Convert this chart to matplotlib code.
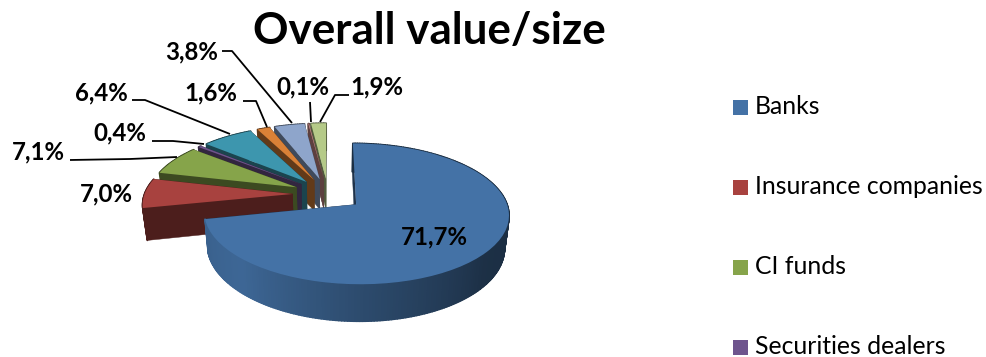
import numpy as np
import matplotlib
matplotlib.use("Agg")
import matplotlib.pyplot as plt
from matplotlib.transforms import Transform
from matplotlib.patches import Rectangle

plt.rcParams['font.family'] = ['Lato', 'DejaVu Sans']

title = "Overall value/size"
values = [71.7, 7.0, 7.1, 0.4, 6.4, 1.6, 3.8, 0.1, 1.9]
colors = ['#4472A6', '#A8423F', '#86A44A', '#6E548D', '#3D96AE',
          '#DA8137', '#8EA5CB', '#CE8E8D', '#B5CA88']
legend_names = ["Banks", "Insurance companies", "CI funds", "Securities dealers"]

# projection of the tilted pie into pixel-like axes coordinates
X0, Y0, SX, SY, PERSP, DEPTH, EXPLODE = 328.0, 194.2, 148.0, 66.5, 0.13, 31.5, 0.24


def project(wx, wy, bottom=False):
    w = 1 + PERSP * np.asarray(wy)
    shrink = 0.975 if bottom else 1.0
    return (X0 + SX * np.asarray(wx) / w * shrink,
            Y0 - SY * np.asarray(wy) / w + (DEPTH / w if bottom else 0.0))


class Perspective(Transform):
    input_dims = 2
    output_dims = 2
    is_affine = False
    has_inverse = False

    def transform_non_affine(self, values):
        v = np.asarray(values, dtype=float)
        x, y = project(v[:, 0], v[:, 1])
        return np.column_stack([x, y])


fig = plt.figure(figsize=(9.86, 3.57), dpi=100, facecolor='white')
ax = fig.add_axes([0, 0, 1, 1])

wedges, _ = ax.pie(values, colors=colors, explode=[EXPLODE] * len(values),
                   startangle=90, counterclock=False, radius=1,
                   wedgeprops={'linewidth': 0})
ax.set_aspect('auto')
ax.set_xlim(0, 986)
ax.set_ylim(357, 0)
ax.axis('off')

persp = Perspective() + ax.transData
fracs = np.array(values) / sum(values)
edges = np.concatenate([[0], np.cumsum(fracs)]) * 2 * np.pi


def blue_shade(t):
    deg = np.degrees(t)
    return np.interp(deg, [90, 130, 180, 225, 258], [0.40, 0.42, 0.66, 0.90, 0.85])


for i in range(len(values) - 1, -1, -1):
    z = 10 + (len(values) - i) * 2
    t0, t1 = edges[i], edges[i + 1]
    tm = (t0 + t1) / 2
    cx, cy = EXPLODE * np.sin(tm), EXPLODE * np.cos(tm)
    base = np.array(matplotlib.colors.to_rgb(colors[i]))
    dark = base * 0.45

    # straight cut faces
    for t in (t1, t0):
        xs = [cx, cx + np.sin(t)]
        ys = [cy, cy + np.cos(t)]
        tx, ty = project(xs, ys)
        bx, by = project(xs, ys, bottom=True)
        ax.fill(np.r_[tx, bx[::-1]], np.r_[ty, by[::-1]], color=dark, lw=0.3, zorder=z)

    # outer rim, one continuous strip per shade step
    n = max(2, int((t1 - t0) / np.radians(1)))
    ts = np.linspace(t0, t1, n + 1)
    for a, b in zip(ts[:-1], ts[1:]):
        xs = cx + np.sin([a, b])
        ys = cy + np.cos([a, b])
        tx, ty = project(xs, ys)
        bx, by = project(xs, ys, bottom=True)
        shade = blue_shade((a + b) / 2) if i == 0 else 0.45
        ax.fill(np.r_[tx, bx[::-1]], np.r_[ty, by[::-1]], color=base * shade, lw=1.2,
                joinstyle='round', zorder=z)

    wedges[i].set_transform(persp)
    wedges[i].set_clip_on(False)
    wedges[i].set_zorder(z + 1)

ax.set_xlim(0, 986)
ax.set_ylim(357, 0)

ax.text(429, 31, title, fontsize=31.7, fontweight='bold', ha='center', va='center', color='black', zorder=50)

label_xy = [(434, 237), (106, 194), (38, 152), (120, 133), (101, 93),
            (211, 93), (192, 52), (303, 87), (377, 87)]
for v, (x, y) in zip(values, label_xy):
    ax.text(x, y, f"{v:.1f}%".replace('.', ','), fontsize=17.3, fontweight='bold',
            ha='center', va='center', color='black', zorder=50)

leaders = [
    [(70, 160), (130, 159), (177, 157)],
    [(152, 141), (173, 141), (204, 144)],
    [(132, 100), (145, 100), (230, 134)],
    [(243, 101), (256, 101), (267, 127)],
    [(222, 51), (232, 51), (292, 123)],
    [(310, 102), (311, 122)],
    [(349, 95), (335, 95), (320, 122)],
]
for line in leaders:
    xs, ys = zip(*line)
    ax.plot(xs, ys, color='black', lw=1.3, zorder=40, solid_capstyle='butt')

for name, color, y in zip(legend_names, colors, [107, 187, 267, 347]):
    ax.add_patch(Rectangle((733, y - 7.5), 15, 15, color=color, lw=0, zorder=40))
    ax.text(755, y, name, fontsize=17.8, ha='left', va='center', color='black', zorder=50)

fig.savefig('out.png', dpi=100, facecolor='white')
